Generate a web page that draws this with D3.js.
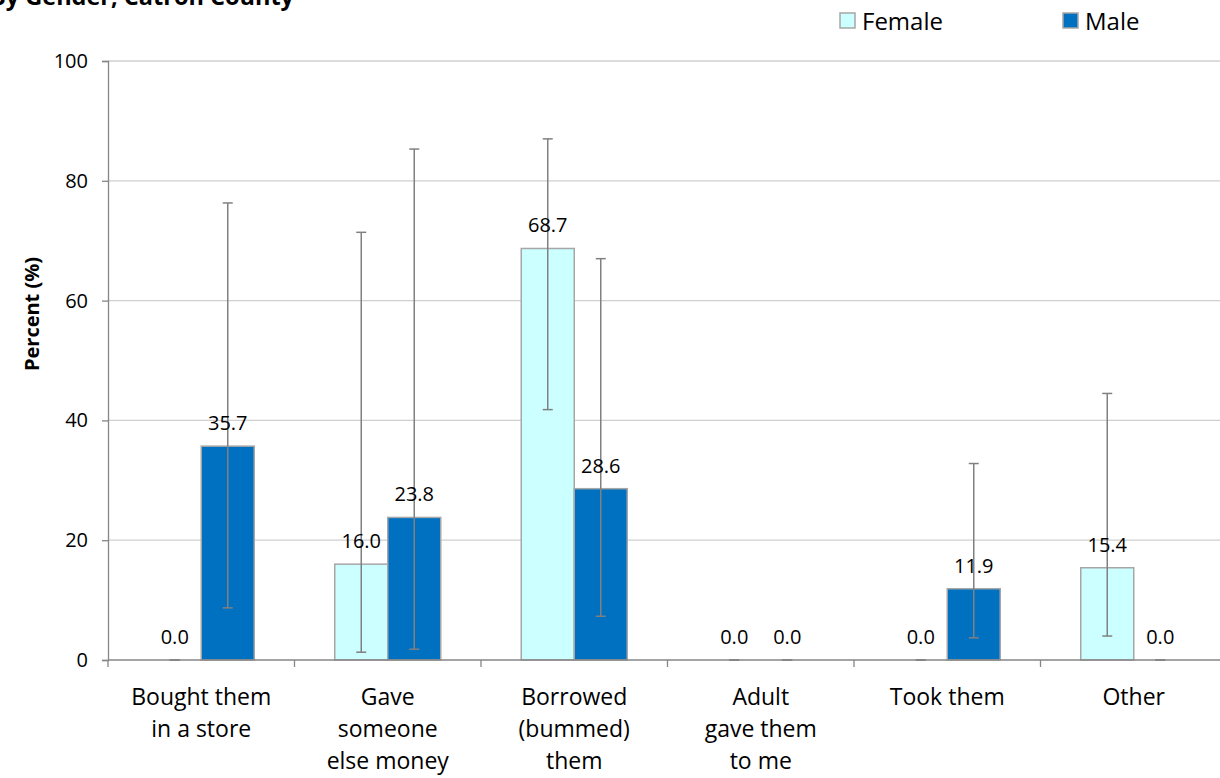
<!DOCTYPE html>
<html>
<head>
<meta charset="utf-8">
<script src="https://cdn.jsdelivr.net/npm/d3@7"></script>
<style>
  html, body { margin: 0; padding: 0; background: #fff; }
  svg { display: block; font-family: "Open Sans", Lato, sans-serif; }
</style>
</head>
<body>
<svg id="chart" width="1220" height="778"></svg>
<script>
// Where youths got their cigarettes, by gender
const categories = [
  ["Bought them", "in a store"],
  ["Gave", "someone", "else money"],
  ["Borrowed", "(bummed)", "them"],
  ["Adult", "gave them", "to me"],
  ["Took them"],
  ["Other"]
];
const seriesNames = ["Female", "Male"];
const femaleValues = [0.0, 16.0, 68.7, 0.0, 0.0, 15.4];
const maleValues   = [35.7, 23.8, 28.6, 0.0, 11.9, 0.0];
const femaleLow  = [0.0, 1.3, 41.8, 0.0, 0.0, 4.0];
const femaleHigh = [0.0, 71.4, 87.0, 0.0, 0.0, 44.5];
const maleLow    = [8.7, 1.8, 7.3, 0.0, 3.7, 0.0];
const maleHigh   = [76.3, 85.3, 67.0, 0.0, 32.8, 0.0];
const yTicks = [0, 20, 40, 60, 80, 100];

const colors = { Female: "#CCFFFF", Male: "#0070C0" };
const FONT = "'Open Sans', Lato, sans-serif";

const svg = d3.select("#chart");
const margin = { left: 108, top: 61, bottom: 660 };
const plotRight = 108 + 6 * 186.5;

const x = d3.scaleBand()
  .domain(d3.range(categories.length))
  .range([margin.left, plotRight])
  .paddingInner(0).paddingOuter(0);
const y = d3.scaleLinear().domain([0, 100]).range([margin.bottom, margin.top]);
const barW = 53;

// Title (runs off the top edge)
svg.append("text")
  .attr("x", -10).attr("y", 5)
  .attr("font-weight", "bold").attr("font-size", 23.5)
  .text("By Gender, Catron County");

// Gridlines
svg.append("g").selectAll("line")
  .data(yTicks.filter(d => d > 0))
  .join("line")
  .attr("x1", margin.left).attr("x2", 1220)
  .attr("y1", d => y(d)).attr("y2", d => y(d))
  .attr("stroke", "#d0d0d0").attr("stroke-width", 1.3);

// Y axis
const yAxis = svg.append("g")
  .attr("transform", `translate(${margin.left},0)`)
  .call(d3.axisLeft(y).tickValues(yTicks).tickSize(6).tickPadding(14).tickFormat(d3.format("d")));
yAxis.select(".domain").attr("stroke", "#868686").attr("stroke-width", 1.3);
yAxis.selectAll(".tick line").attr("stroke", "#868686").attr("stroke-width", 1.3);
yAxis.selectAll(".tick text").attr("font-size", 20).attr("fill", "#000")
  .attr("font-family", FONT);

// Y axis title
svg.append("text")
  .attr("transform", `translate(39,314) rotate(-90)`)
  .attr("text-anchor", "middle")
  .attr("font-weight", "bold").attr("font-size", 20)
  .text("Percent (%)");

function drawSeries(name, values, lows, highs, offset) {
  const cx = i => x(i) + x.bandwidth() / 2 + offset;
  svg.append("g").selectAll("rect")
    .data(values)
    .join("rect")
    .attr("x", (d, i) => cx(i) - barW / 2)
    .attr("y", d => y(d))
    .attr("width", barW)
    .attr("height", d => y(0) - y(d))
    .attr("fill", colors[name])
    .attr("stroke", d => d > 0 ? "#a6a6a6" : "none")
    .attr("stroke-width", 1.5);

  // Error bars
  const eb = svg.append("g").attr("stroke", "#808080").attr("stroke-width", 1.5);
  values.forEach((v, i) => {
    const c = cx(i);
    eb.append("line").attr("x1", c).attr("x2", c).attr("y1", y(lows[i])).attr("y2", y(highs[i]));
    eb.append("line").attr("x1", c - 5).attr("x2", c + 5).attr("y1", y(lows[i])).attr("y2", y(lows[i]));
    eb.append("line").attr("x1", c - 5).attr("x2", c + 5).attr("y1", y(highs[i])).attr("y2", y(highs[i]));
  });

  // Value labels
  svg.append("g").selectAll("text")
    .data(values)
    .join("text")
    .attr("x", (d, i) => cx(i))
    .attr("y", d => y(d) - 16)
    .attr("text-anchor", "middle")
    .attr("font-size", 20)
    .text(d => d.toFixed(1));
}
drawSeries("Female", femaleValues, femaleLow, femaleHigh, -barW / 2);
drawSeries("Male", maleValues, maleLow, maleHigh, barW / 2);

// X axis
const xAxis = svg.append("g")
  .attr("transform", `translate(0,${margin.bottom})`);
xAxis.append("line")
  .attr("x1", margin.left).attr("x2", 1220)
  .attr("stroke", "#868686").attr("stroke-width", 1.3);
xAxis.selectAll(".tk")
  .data(d3.range(categories.length + 1))
  .join("line")
  .attr("class", "tk")
  .attr("x1", i => margin.left + i * x.bandwidth())
  .attr("x2", i => margin.left + i * x.bandwidth())
  .attr("y1", 0).attr("y2", 7)
  .attr("stroke", "#868686").attr("stroke-width", 1.3);
const xl = xAxis.selectAll(".lbl")
  .data(categories)
  .join("text")
  .attr("class", "lbl")
  .attr("text-anchor", "middle")
  .attr("font-size", 23)
  .attr("x", (d, i) => x(i) + x.bandwidth() / 2)
  .attr("y", 45);
xl.selectAll("tspan")
  .data(d => d)
  .join("tspan")
  .attr("x", function () { return this.parentNode.getAttribute("x"); })
  .attr("dy", (d, i) => i === 0 ? 0 : 32)
  .text(d => d);

// Legend
const legend = svg.append("g");
const legendX = [840, 1063];
seriesNames.forEach((name, i) => {
  legend.append("rect")
    .attr("x", legendX[i]).attr("y", 13)
    .attr("width", 15).attr("height", 15)
    .attr("fill", colors[name]).attr("stroke", "#a6a6a6").attr("stroke-width", 1.5);
  legend.append("text")
    .attr("x", legendX[i] + 22).attr("y", 30)
    .attr("font-size", 24)
    .text(name);
});
</script>
</body>
</html>
